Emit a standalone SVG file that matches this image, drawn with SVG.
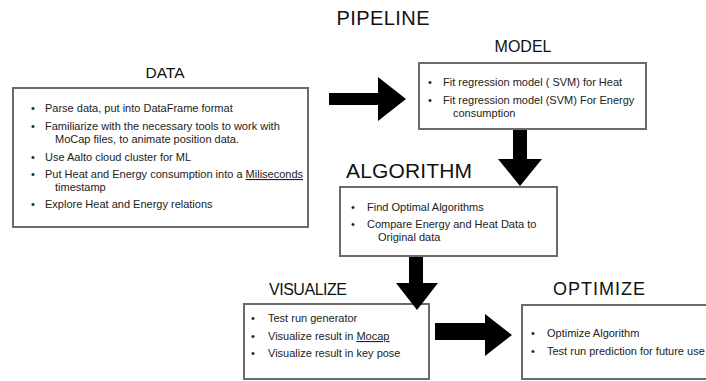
<svg xmlns="http://www.w3.org/2000/svg" width="706" height="381" viewBox="0 0 706 381">
<style>
.box{fill:#fff;stroke:#6b6b6b;stroke-width:2}
.title{font-family:"Liberation Sans",Arial,sans-serif;fill:#111}
.t{font-family:"Liberation Sans",Arial,sans-serif;font-size:11px;fill:#222}
.arrow{fill:#000}
</style>
<rect width="706" height="381" fill="#fff"/>
<text class="title" x="383" y="25" font-size="20" text-anchor="middle" textLength="93">PIPELINE</text>

<g id="data">
<text class="title" x="165" y="78" font-size="15.5" text-anchor="middle">DATA</text>
<rect class="box" x="13" y="88" width="295" height="139"/>
<text class="t" x="31" y="112">•</text><text class="t" x="45" y="112">Parse data, put into DataFrame format</text>
<text class="t" x="31" y="130">•</text><text class="t" x="45" y="130">Familiarize with the necessary tools to work with</text>
<text class="t" x="55" y="143">MoCap files, to animate position data.</text>
<text class="t" x="31" y="161">•</text><text class="t" x="45" y="161">Use Aalto cloud cluster for ML</text>
<text class="t" x="31" y="178">•</text><text class="t" x="45" y="178">Put Heat and Energy consumption into a <tspan text-decoration="underline">Miliseconds</tspan></text>
<text class="t" x="55" y="191">timestamp</text>
<text class="t" x="31" y="208">•</text><text class="t" x="45" y="208">Explore Heat and Energy relations</text>
</g>

<g id="model">
<text class="title" x="523" y="52" font-size="16" text-anchor="middle">MODEL</text>
<rect class="box" x="419" y="63" width="227" height="66"/>
<text class="t" x="428" y="86">•</text><text class="t" x="443" y="86">Fit regression model ( SVM) for Heat</text>
<text class="t" x="428" y="104">•</text><text class="t" x="443" y="104">Fit regression model (SVM) For Energy</text>
<text class="t" x="453" y="117">consumption</text>
</g>

<g id="algorithm">
<text class="title" x="346" y="178" font-size="21" textLength="126">ALGORITHM</text>
<rect class="box" x="340" y="187" width="217" height="69"/>
<text class="t" x="351" y="211">•</text><text class="t" x="367" y="211">Find Optimal Algorithms</text>
<text class="t" x="351" y="228">•</text><text class="t" x="367" y="228">Compare Energy and Heat Data to</text>
<text class="t" x="378" y="241">Original data</text>
</g>

<g id="visualize">
<text class="title" x="269" y="295" font-size="16" textLength="78">VISUALIZE</text>
<rect class="box" x="244" y="304" width="185" height="75"/>
<text class="t" x="251" y="322">•</text><text class="t" x="268" y="322">Test run generator</text>
<text class="t" x="251" y="340">•</text><text class="t" x="268" y="340">Visualize result in <tspan text-decoration="underline">Mocap</tspan></text>
<text class="t" x="251" y="357">•</text><text class="t" x="268" y="357">Visualize result in key pose</text>
</g>

<g id="optimize">
<text class="title" x="553" y="295" font-size="18" textLength="92">OPTIMIZE</text>
<rect class="box" x="522" y="305" width="190" height="74"/>
<text class="t" x="531" y="337">•</text><text class="t" x="547" y="337">Optimize Algorithm</text>
<text class="t" x="531" y="355">•</text><text class="t" x="547" y="355">Test run prediction for future use</text>
</g>

<g id="connectors">
<polygon class="arrow" points="329,93 378,93 378,77 406,99 378,121 378,105 329,105"/>
<polygon class="arrow" points="513,130 527,130 527,159 542,159 520,186 498,159 513,159"/>
<polygon class="arrow" points="409,257 423,257 423,283 438,283 417,310 396,283 409,283"/>
<polygon class="arrow" points="435,323 485,323 485,314 512,335 485,356 485,340 435,340"/>
</g>
</svg>
